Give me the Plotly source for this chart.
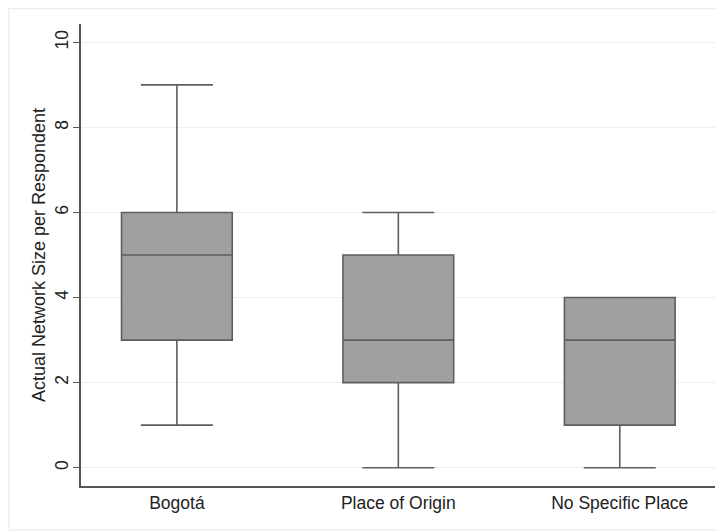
import plotly.graph_objects as go

categories = ["Bogotá", "Place of Origin", "No Specific Place"]
positions = [1, 2, 3]
lower_whisker = [1, 0, 0]
q1_values = [3, 2, 1]
medians = [5, 3, 3]
q3_values = [6, 5, 4]
upper_whisker = [9, 6, 4]
y_ticks = [0, 2, 4, 6, 8, 10]

FONT = "Liberation Sans, Arial, Helvetica, sans-serif"

fig = go.Figure()
fig.add_trace(go.Box(
    x=positions,
    q1=q1_values,
    median=medians,
    q3=q3_values,
    lowerfence=lower_whisker,
    upperfence=upper_whisker,
    width=0.5,
    whiskerwidth=0.65,
    fillcolor="#a0a0a0",
    line=dict(color="#5e5e5e", width=1.6),
    boxpoints=False,
    showlegend=False,
    hoverinfo="y",
))

fig.update_layout(
    width=717,
    height=523,
    margin=dict(l=73, r=10, t=16, b=45),
    paper_bgcolor="white",
    plot_bgcolor="white",
    font=dict(family=FONT, size=17.5, color="#222222"),
    showlegend=False,
    xaxis=dict(
        range=[0.567, 3.43],
        tickvals=positions,
        ticktext=categories,
        showline=True,
        linecolor="#555555",
        linewidth=1.5,
        ticks="",
        showgrid=False,
        zeroline=False,
        automargin=False,
        tickfont=dict(size=17.5),
    ),
    yaxis=dict(
        range=[-0.43, 10.43],
        tickvals=y_ticks,
        tickangle=-90,
        showline=True,
        linecolor="#555555",
        linewidth=1.5,
        ticks="outside",
        ticklen=6,
        tickcolor="#555555",
        tickwidth=1.3,
        ticklabelstandoff=-2,
        showgrid=True,
        gridcolor="#eeeeee",
        gridwidth=1.3,
        zeroline=False,
        automargin=False,
        tickfont=dict(size=17.5),
        title=dict(text="Actual Network Size per Respondent", font=dict(size=18), standoff=2),
    ),
    shapes=[dict(
        type="rect", xref="paper", yref="paper",
        x0=-0.1136, x1=1.0126, y0=-0.0952, y1=1.0335,
        line=dict(color="#eeeeee", width=1.5),
        fillcolor="rgba(0,0,0,0)",
        layer="below",
    )],
)

fig.write_html("out.html")
